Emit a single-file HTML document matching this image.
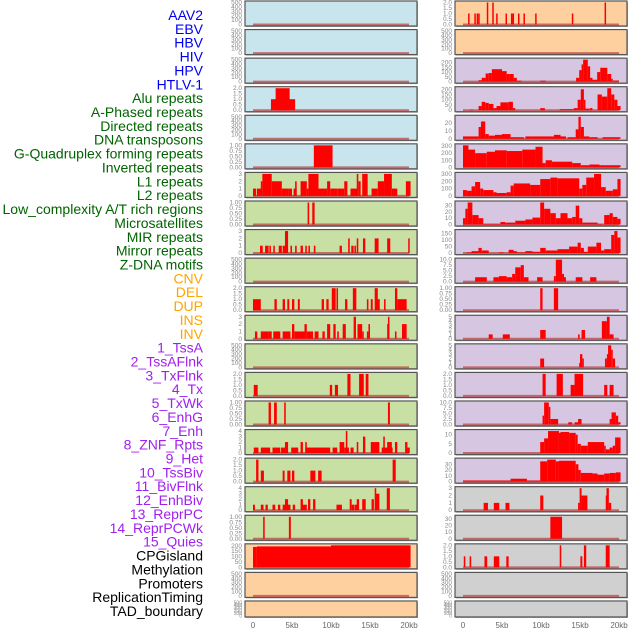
<!DOCTYPE html>
<html><head><meta charset="utf-8"><style>
body{margin:0;background:#fff;}
svg{display:block;font-family:"Liberation Sans",sans-serif;}
</style></head><body>
<svg id="chart" width="630" height="630" viewBox="0 0 630 630" xmlns="http://www.w3.org/2000/svg">
<g id="labels"></g>
<g id="panels"></g>
<g id="xaxes"></g>
</svg>
<script>
const featureLabels = ["AAV2","EBV","HBV","HIV","HPV","HTLV-1","Alu repeats","A-Phased repeats","Directed repeats","DNA transposons","G-Quadruplex forming repeats","Inverted repeats","L1 repeats","L2 repeats","Low_complexity A/T rich regions","Microsatellites","MIR repeats","Mirror repeats","Z-DNA motifs","CNV","DEL","DUP","INS","INV","1_TssA","2_TssAFlnk","3_TxFlnk","4_Tx","5_TxWk","6_EnhG","7_Enh","8_ZNF_Rpts","9_Het","10_TssBiv","11_BivFlnk","12_EnhBiv","13_ReprPC","14_ReprPCWk","15_Quies","CPGisland","Methylation","Promoters","ReplicationTiming","TAD_boundary"];
const labelGroups = [6,13,5,15,5];
const xTickValues = [0,5,10,15,20];
const xTickLabels = ["0","5kb","10kb","15kb","20kb"];

const tEmpty = [0,100,200,300,400,500];
const t2h = [0,0.5,1,1.5,2];
const t1q = [0,0.25,0.5,0.75,1];
const t3 = [0,1,2,3];
const t4 = [0,1,2,3,4];
const t5 = [0,1,2,3,4,5];

const dAAV2=[],dEBV=[],dHBV=[],dHPV=[],dDNA=[],dL1=[],dDEL=[],dDUP=[],dINV=[],dRepl=[],dTAD=[];
const dHIV=[[2.3,5.4,1],[2.9,4.7,2]];
const dHTLV=[[7.8,10.2,1]];
const dAlu=[[0,0.4,1],[0.5,1.1,1],[1.0,1.2,2],[1.2,2.4,3],[2.4,3.7,2],[3.7,4.5,1],[4.5,5.0,1],[5.2,5.6,1],[5.4,5.6,2],[6.1,6.9,2],[6.9,7.1,1],[7.1,8.4,3],[8.4,9.5,1],[9.5,9.9,2],[9.9,10.8,1],[10.8,11.7,1],[11.7,12.1,2],[12.5,13.4,1],[13.3,13.5,3],[13.5,13.8,2],[14.0,14.7,3],[15.2,16.0,1],[16.0,16.8,2],[16.8,17.8,3],[17.8,18.5,1],[19.6,20.2,2]];
const dAPhased=[[7.0,7.2,1],[7.6,7.9,1]];
const dDirected=[[0.9,1.25,1],[1.55,2.0,1],[2.1,2.3,1],[2.6,2.8,1],[3.3,3.7,1],[3.8,4.1,1],[4.1,4.5,3],[4.8,5.0,1],[5.4,5.6,1],[6.1,6.4,1],[6.7,6.9,1],[7.1,7.3,1],[7.8,8.0,1],[11.1,11.4,1],[12.2,12.4,2],[12.6,12.9,1],[13.0,13.2,1],[13.3,13.5,2],[14.1,14.4,2],[15.6,16.1,2],[17.2,17.6,2],[19.9,20.0,2]];
const dGQuad=[[0,1.0,1],[2.75,3.05,1],[3.8,4.1,1],[4.4,4.65,1],[5.0,5.3,1],[5.75,6.0,1],[8.8,9.1,1],[9.4,9.7,1],[10.1,10.6,2],[10.7,10.9,2],[11.8,12.1,1],[12.8,13.25,2],[14.6,14.8,1],[15.1,15.35,1],[15.6,16.0,2],[15.95,16.25,1],[16.8,17.0,1],[18.2,18.5,2],[18.5,19.7,1]];
const dInverted=[[0.25,0.55,1],[1.0,2.0,1],[2.0,2.4,1],[2.6,3.5,1],[3.8,4.8,1],[5.0,5.3,2],[5.3,6.6,1],[6.6,6.9,2],[6.9,7.7,1],[7.9,8.4,1],[8.9,9.2,1],[9.5,9.9,2],[10.3,10.6,2],[10.8,11.0,1],[11.5,11.9,2],[12.9,13.2,3],[13.4,14.0,2],[14.0,14.2,1],[14.6,14.8,1],[14.8,15.0,2],[17.2,17.5,2],[17.3,17.45,3],[18.2,18.4,1],[19.1,19.7,2]];
const dL2=[[0.1,0.6,1],[9.85,10.15,1],[10.5,10.9,1],[12.1,12.5,2],[13.6,14.2,2],[14.45,14.8,2]];
const dLowComp=[[2.0,2.3,1],[2.7,3.05,1],[4.0,4.2,1],[17.3,17.55,1]];
const dMicro=[[0.1,0.7,1],[1.0,2.2,1],[2.5,3.5,1],[3.6,4.1,1],[4.1,4.5,2],[4.9,5.8,1],[6.1,6.4,2],[6.7,9.9,1],[6.7,6.9,2],[10.2,10.8,1],[11.1,11.7,2],[11.7,12.3,1],[11.9,12.1,4],[12.5,12.9,1],[13.3,13.5,2],[14.1,14.4,3],[15.1,16.2,2],[16.5,17.9,1],[16.7,16.9,3],[17.2,17.8,2],[18.2,18.5,2],[19.5,19.8,2],[19.8,20.1,1]];
const dMIR=[[0.4,0.7,2],[1.0,1.4,1],[3.8,4.05,1],[4.4,4.8,1],[5.0,5.3,1],[7.35,8.0,1],[8.35,8.8,1],[17.9,18.3,2]];
const dMirror=[[0,0.25,1],[1.0,1.35,1],[1.6,1.9,1],[2.5,2.85,1],[3.2,3.5,1],[3.8,4.35,1],[4.1,4.5,2],[4.4,4.8,1],[5.1,5.4,1],[6.1,6.4,2],[6.3,6.9,1],[7.05,7.35,2],[7.7,8.0,2],[10.7,11.4,1],[12.4,12.65,2],[12.65,12.95,1],[13.0,13.4,1],[13.3,13.6,2],[14.0,14.45,2],[15.2,15.5,2],[15.6,15.8,4],[15.75,16.2,3],[17.15,17.55,4]];
const dZDNA=[[1.3,1.5,1],[4.6,4.85,1]];
const dCNV=[[0,0.5,190],[0.5,10,195],[10,20.2,205]];
const dINS=[[0.65,0.8,1],[1.45,1.6,1],[1.75,1.9,1],[1.95,2.1,1],[3.05,3.2,2],[3.75,3.9,2],[4.25,4.4,1],[5.45,5.6,1],[6.15,6.3,1],[6.35,6.5,1],[7.05,7.2,1],[7.75,7.9,1],[9.25,9.4,1],[13.95,14.1,1],[18.15,18.3,2]];
const dTssA=[[2.0,2.4,15],[2.4,2.9,40],[2.9,3.3,85],[3.3,3.7,90],[3.7,5.0,130],[5.0,5.6,110],[5.6,6.0,80],[6.0,6.5,80],[6.5,6.9,40],[6.9,7.2,10],[7.1,7.5,10],[9.9,10.6,10],[14.5,14.9,40],[14.9,15.2,120],[15.2,15.4,180],[15.4,16.0,230],[16.0,16.3,160],[16.3,16.6,40],[16.6,17.2,20],[17.2,17.6,100],[17.6,18.5,145],[18.5,19.0,80],[19.0,19.2,30],[19.2,20,12]];
const dTssAFlnk=[[0.9,1.3,5],[2.0,2.4,40],[2.4,2.85,80],[2.85,3.3,70],[3.3,3.9,60],[3.9,4.3,20],[4.3,4.8,40],[4.8,5.85,75],[5.85,6.4,80],[6.4,6.7,20],[9.9,10.5,20],[12.4,13.2,10],[13.2,14.2,10],[14.2,14.7,20],[14.7,15.1,100],[15.1,15.5,200],[15.5,15.7,100],[15.7,16.2,15],[16.25,16.6,20],[17.25,17.8,150],[17.8,18.5,130],[18.5,19.0,210],[19.0,19.4,150],[19.4,19.8,100],[19.8,20.2,40]];
const dTxFlnk=[[0,2.0,3],[2.0,2.3,15],[2.3,2.85,22],[2.85,3.3,6],[3.3,4.1,4],[4.1,5.0,5],[5.0,6.1,6],[6.1,7.8,2],[8.0,8.9,3],[8.9,11.65,3],[11.65,12.5,5],[12.5,13.2,3],[13.4,14.45,2],[14.45,14.8,12],[14.8,15.1,28],[15.1,15.5,15],[15.5,16.2,3],[16.2,17.25,2],[17.9,20.2,2]];
const dTx=[[0,0.7,310],[0.7,1.55,250],[1.55,3.05,200],[3.05,4.1,220],[4.1,5.6,240],[5.6,7.6,230],[7.6,9.3,250],[9.3,10.2,290],[10.2,10.6,60],[10.6,11.4,100],[11.4,14.0,80],[14.0,15.1,60],[15.1,16.2,30],[16.2,17.5,40],[17.5,18.3,30],[18.3,20.2,30]];
const dTxWk=[[0,0.5,80],[0.5,1.1,70],[1.1,1.55,130],[1.55,2.2,190],[2.2,2.6,100],[2.6,3.9,80],[3.9,4.3,50],[4.3,5.6,40],[5.6,6.1,50],[6.1,6.5,140],[6.5,8.6,170],[8.6,9.9,150],[9.9,11.2,230],[11.2,12.1,250],[12.1,14.9,240],[14.9,15.3,100],[15.3,15.8,150],[15.8,16.8,250],[16.8,17.7,300],[17.7,18.3,120],[18.3,19.2,70],[19.2,19.8,90],[19.8,20.2,230]];
const dEnhG=[[0,0.3,10],[0.3,0.6,25],[0.6,1.2,35],[1.2,2.0,15],[2.0,2.6,10],[2.6,4.8,1],[4.8,5.4,4],[5.4,6.7,3],[6.7,8.0,6],[8.0,8.9,8],[8.9,9.9,11],[9.9,10.4,35],[10.4,11.2,25],[11.2,11.9,18],[11.9,12.5,10],[12.5,13.4,18],[13.4,14.0,10],[14.0,14.45,12],[14.45,14.9,30],[14.9,15.3,10],[15.3,17.25,3],[17.25,17.9,1],[18.1,18.8,15],[18.8,19.2,18],[19.2,19.8,12],[19.8,20.2,9]];
const dEnh=[[0.5,1.1,5],[1.1,1.98,15],[1.98,2.4,40],[2.4,3.3,20],[4.6,5.2,5],[5.85,6.5,25],[6.5,6.9,15],[6.9,8.0,5],[8.0,8.9,15],[8.9,9.9,10],[9.9,10.6,40],[10.6,12.1,20],[12.1,13.6,30],[13.6,14.7,50],[14.7,15.1,80],[15.1,15.5,40],[15.5,16.0,10],[16.0,17.1,50],[17.1,17.7,80],[17.7,18.1,20],[18.1,19.0,30],[19.0,19.4,140],[19.4,19.8,170],[19.8,20.2,120]];
const dZNF=[[1.55,3.05,2],[3.9,4.6,2],[4.6,5.6,2.5],[5.6,6.3,2],[6.3,6.7,3.5],[6.7,7.4,6.5],[7.4,7.8,7.5],[7.8,8.4,2],[9.5,10.2,2],[11.65,11.9,2.5],[11.9,12.7,10],[12.7,12.95,3.5],[12.95,13.2,2],[14.45,15.3,2],[16.3,17.1,2]];
const dHet=[[9.9,10.2,1],[11.65,12.2,1]];
const dTssBiv=[[3.3,3.8,1],[5.1,6.0,1],[9.9,10.6,2],[14.75,14.95,1],[15.2,15.65,2],[17.8,18.45,4],[18.45,18.8,5],[18.8,19.3,1]];
const dBivFlnk=[[9.9,10.4,2],[14.9,15.0,1],[15.0,15.3,3],[15.3,15.45,2],[18.2,18.45,2],[18.45,18.6,3],[18.6,19.0,5],[19.0,19.2,4],[19.2,19.5,2]];
const dEnhBiv=[[10.2,10.6,2],[12.0,12.8,2],[13.8,14.3,1],[14.3,15.4,2],[18.1,18.5,1],[18.8,19.3,1]];
const dReprPC=[[10.2,10.4,4],[10.4,11.0,10],[11.0,11.2,8],[11.2,12.2,2.5],[13.5,14.0,1],[14.3,14.75,1],[14.75,15.2,2.5],[18.8,19.05,2.5],[19.05,19.6,5.5],[19.6,19.9,4],[19.9,20.2,1]];
const dReprPCWk=[[9.9,10.4,6],[10.4,10.9,8],[10.9,12.3,12],[12.3,12.5,11],[12.5,13.6,11.5],[13.6,14.45,11],[14.45,14.7,10],[14.7,15.1,5],[15.1,16.0,4],[16.0,18.1,6],[18.1,18.3,4],[18.3,18.8,2],[18.8,19.2,3],[19.2,19.5,4],[19.5,20.2,8.5]];
const dQuies=[[0,6.1,2],[6.1,8.2,5],[8.2,9.9,2],[9.9,10.8,35],[10.8,11.9,38],[11.9,12.3,35],[12.3,14.45,36],[14.45,14.8,30],[14.8,15.1,20],[15.1,16.6,15],[16.6,17.25,14],[17.25,18.1,12],[18.1,18.8,14],[18.8,19.6,15],[19.6,20.2,16]];
const dCPG=[[2.65,3.2,1],[3.95,4.65,1],[5.45,5.95,1],[9.9,10.3,2],[14.75,14.95,1],[14.95,15.2,3],[15.2,15.95,2],[18.3,18.5,2],[18.4,18.7,3],[18.7,19.0,1]];
const dMeth=[[11.2,12.7,33]];
const dProm=[[0.1,0.3,1],[0.85,1.05,1],[2.75,3.1,1],[3.95,4.65,1],[5.55,5.85,1],[12.4,12.6,2],[15.05,15.3,1],[15.5,15.8,2],[18.3,18.8,2]];

const leftData=[dAAV2,dEBV,dHBV,dHIV,dHPV,dHTLV,dAlu,dAPhased,dDirected,dDNA,dGQuad,dInverted,dL1,dL2,dLowComp,dMicro,dMIR,dMirror,dZDNA,dCNV,dDEL,dDUP];
const leftTicks=[tEmpty,tEmpty,tEmpty,t2h,tEmpty,t1q,t3,t1q,t3,tEmpty,t2h,t3,tEmpty,t2h,t1q,t4,t2h,t4,t1q,[0,50,100,150,200],tEmpty,tEmpty];
const rightData=[dINS,dINV,dTssA,dTssAFlnk,dTxFlnk,dTx,dTxWk,dEnhG,dEnh,dZNF,dHet,dTssBiv,dBivFlnk,dEnhBiv,dReprPC,dReprPCWk,dQuies,dCPG,dMeth,dProm,dRepl,dTAD];
const rightTicks=[t2h,tEmpty,[0,50,100,150,200],[0,50,100,150,200],[0,10,20],[0,100,200,300],[0,100,200,300],[0,10,20,30],[0,50,100,150],[0,2.5,5,7.5,10],t1q,t5,t5,t2h,[0,2.5,5,7.5,10],[0,5,10],[0,10,20,30],t3,[0,10,20,30],t2h,tEmpty,tEmpty];

const NS="http://www.w3.org/2000/svg";
function mk(tag,attrs,parent){const e=document.createElementNS(NS,tag);for(const k in attrs)e.setAttribute(k,attrs[k]);parent.appendChild(e);return e;}

// labels
const labelColors=["#0000ee","#006400","#ffa500","#a020f0","#000000"];
const lg=document.getElementById('labels');
let gi=0,cnt=0;
featureLabels.forEach((t,i)=>{
  if(cnt>=labelGroups[gi]){gi++;cnt=0;}
  cnt++;
  const tx=mk('text',{x:203,y:15+i*13.86+5,'text-anchor':'end','font-size':14,fill:labelColors[gi]},lg);
  tx.textContent=t;
  
  
});

const leftColors=[];for(let i=0;i<22;i++)leftColors.push(i<6?"#c8e4ec":i<19?"#c8e0a4":"#fed0a0");
const rightColors=[];for(let i=0;i<22;i++)rightColors.push(i<2?"#fed0a0":i<17?"#d6c6e2":"#d0d0d0");

function fmt(v,ticks){
  const step=ticks[1]-ticks[0];
  if(step<0.5||step===2.5&&false)return v.toFixed(2);
  if(Math.round(step)!==step)return v.toFixed(1);
  return String(v);
}
const pg=document.getElementById('panels');
function drawColumn(data,ticks,colors,x0,x1,side){
  const kb0=x0+8,kbw=(x1-x0-16)/20;
  const xs=k=>kb0+k*kbw;
  data.forEach((d,r)=>{
    const top=1+r*28.57;
    const h=r===21?16:25;
    const g=mk('g',{},pg);
    
    
    mk('rect',{x:x0+1,y:top+1,width:x1-x0,height:h,fill:'#aaa'},g);
    mk('rect',{x:x0,y:top,width:x1-x0,height:h,fill:colors[r],stroke:'#555','stroke-width':1.2},g);
    const tk=ticks[r];
    let ymax=tk[tk.length-1];
    d.forEach(s=>{if(s[2]>ymax)ymax=s[2];});
    if(d.length){const dm=Math.max(...d.map(s=>s[2]));ymax=dm;if(tk[tk.length-1]>dm)ymax=tk[tk.length-1];}
    const yb=top+h-1.5, yt=top+1.5;
    const ys=v=>yb-(v/ymax)*(yb-yt);
    tk.forEach(v=>{
      const t=mk('text',{x:x0-3,y:ys(v)+2,'text-anchor':'end','font-size':h<20?5:6.5,fill:'#888'},g);
      t.textContent=fmt(v,tk);
      
      
    });
    if(r<21||d.length){
      mk('line',{x1:xs(0),x2:xs(20),y1:yb,y2:yb,stroke:'rgba(190,60,60,0.7)','stroke-width':2},g);
    }
    d.forEach(s=>{
      const bx=xs(s[0]),bw=Math.max(1.5,xs(s[1])-xs(s[0]));
      const b=mk('rect',{x:bx,y:ys(s[2]),width:bw,height:yb-ys(s[2]),fill:'#ff0000'},g);
      
      
    });
  });
  const ax=document.getElementById('xaxes');
  xTickValues.forEach((v,i)=>{
    const t=mk('text',{x:xs(v),y:628,'text-anchor':'middle','font-size':8,fill:'#666'},ax);
    t.textContent=xTickLabels[i];
    
    
  });
}
drawColumn(leftData,leftTicks,leftColors,245,417,'left');
drawColumn(rightData,rightTicks,rightColors,455,627,'right');
</script>
</body></html>
